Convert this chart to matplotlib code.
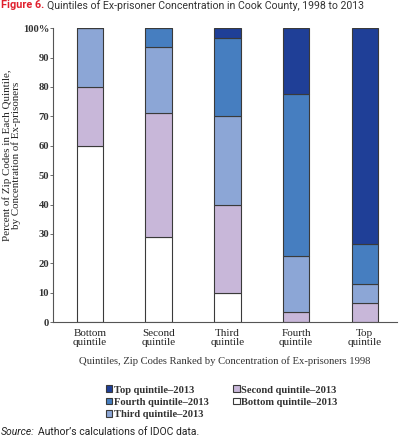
import matplotlib.pyplot as plt
import numpy as np

groups = ["Bottom\nquintile", "Second\nquintile", "Third\nquintile", "Fourth\nquintile", "Top\nquintile"]
# share of each 1998 quintile falling into each 2013 quintile (percent)
bottom_2013 = [60, 29, 10, 0, 0]
second_2013 = [20, 42, 30, 3.3, 6.5]
third_2013 = [20, 22.5, 30, 19.2, 6.5]
fourth_2013 = [0, 6.5, 26.5, 55, 13.5]
top_2013 = [0, 0, 3.5, 22.5, 73.5]

series = [
    ("Bottom quintile\u20132013", bottom_2013, "#ffffff"),
    ("Second quintile\u20132013", second_2013, "#c8b7d9"),
    ("Third quintile\u20132013", third_2013, "#8ca6d6"),
    ("Fourth quintile\u20132013", fourth_2013, "#467ec0"),
    ("Top quintile\u20132013", top_2013, "#1f3f97"),
]

serif = ["Liberation Serif", "DejaVu Serif"]
fig = plt.figure(figsize=(3.99, 4.40), dpi=100)
ax = fig.add_axes([0.133, 0.268, 0.862, 0.668])

x = np.arange(len(groups))
base = np.zeros(len(groups))
handles = {}
for name, vals, col in series:
    vals = np.array(vals, dtype=float)
    b = ax.bar(x, vals, bottom=base, width=0.385, color=col, edgecolor="#3a3a3a", linewidth=0.8, label=name)
    handles[name] = b
    base += vals

ax.set_ylim(0, 100)
ax.set_xlim(-0.538, 4.47)
ax.set_yticks(range(0, 101, 10))
ax.set_yticklabels([str(v) for v in range(0, 100, 10)] + ["100%"], fontsize=7.7, family=serif, fontweight="bold", color="#333333")
ax.set_xticks(x)
ax.set_xticklabels(groups, fontsize=8, family=serif, color="#222222", linespacing=1.0)
ax.tick_params(axis="x", length=0, pad=5)
ax.tick_params(axis="y", length=2, width=0.6, color="#555555", pad=0.8)
for s in ["top", "right"]:
    ax.spines[s].set_visible(False)
for s in ["left", "bottom"]:
    ax.spines[s].set_color("#555555")
    ax.spines[s].set_linewidth(0.8)

ax.set_ylabel("Percent of Zip Codes in Each Quintile,\nby Concentration of Ex-prisoners", fontsize=7.9, family=serif, color="#222222", linespacing=0.9)
ax.yaxis.set_label_coords(-0.092, 0.568)
ax.set_xlabel("Quintiles, Zip Codes Ranked by Concentration of Ex-prisoners 1998", fontsize=7.7, family=serif, color="#333333", labelpad=7)

order = ["Top quintile\u20132013", "Fourth quintile\u20132013", "Third quintile\u20132013",
         "Second quintile\u20132013", "Bottom quintile\u20132013"]
leg = fig.legend([handles[n] for n in order], order, loc="upper left", bbox_to_anchor=(0.266, 0.124), ncol=2,
                 frameon=False, handlelength=0.6, handleheight=0.6, handletextpad=0.15,
                 columnspacing=2.3, labelspacing=0.3, borderaxespad=0, borderpad=0,
                 prop={"family": serif, "size": 7.6, "weight": "bold"})
for t in leg.get_texts():
    t.set_color("#333333")

fig.text(0.002, 0.988, "Figure 6.", fontsize=7.8, color="#e0202e", fontweight="bold", va="center", family="Roboto")
fig.text(0.117, 0.988, "Quintiles of Ex-prisoner Concentration in Cook County, 1998 to 2013", fontsize=7.6, color="#333333", va="center", family="Roboto")
fig.text(0.002, 0.018, "Source:", fontsize=7.5, color="#222222", style="italic", va="center", family="Roboto")
fig.text(0.094, 0.018, "Author\u2019s calculations of IDOC data.", fontsize=7.5, color="#222222", va="center", family="Roboto")

fig.savefig("out.png", dpi=100)
